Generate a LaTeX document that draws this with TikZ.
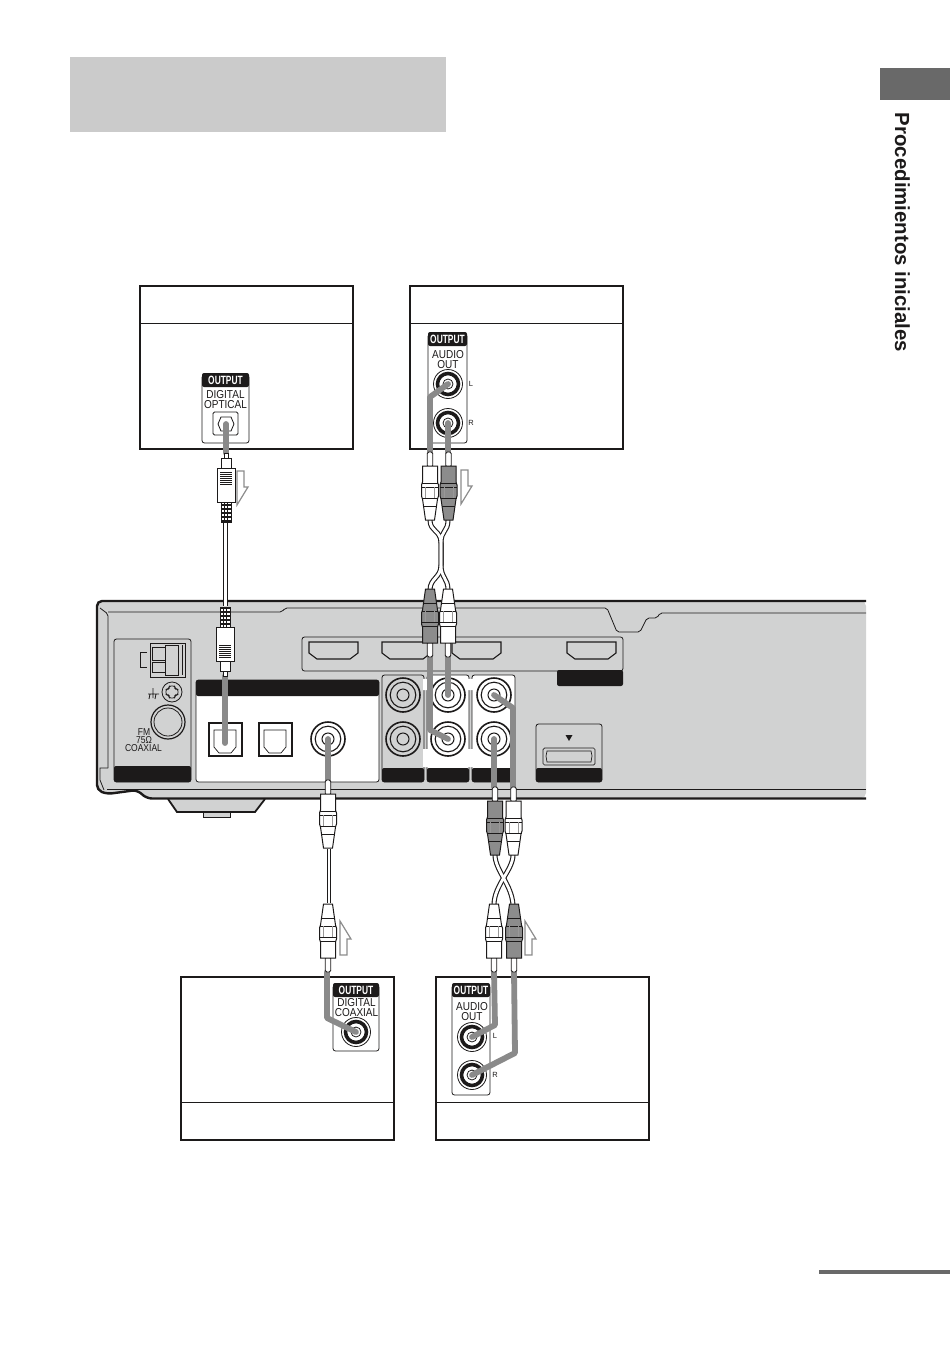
\documentclass[tikz,border=0pt]{standalone}
\usepackage{fontspec}
\setmainfont{Liberation Sans}
\definecolor{devgray}{HTML}{D1D2D2}
\definecolor{titlegray}{HTML}{CBCBCB}
\definecolor{tabgray}{HTML}{696969}
\definecolor{leadgray}{HTML}{8A8A8A}
\definecolor{darkplug}{HTML}{8C8C8C}
\definecolor{inkblack}{HTML}{1C1A1A}
\newcommand{\smalltext}{\fontsize{10}{10}\selectfont}
\newcommand{\paneltext}{\fontsize{11.5}{11.5}\selectfont}
\newcommand{\tinytext}{\fontsize{7.5}{7.5}\selectfont}
\newcommand{\outputword}{\scalebox{.7}[1]{OUTPUT}}
\newcommand{\tallword}[1]{\scalebox{.87}[1]{#1}}
\tikzset{
    frameline/.style={draw=inkblack, line width=1.6},
    thinline/.style={draw=inkblack, line width=0.8},
    panel/.style={draw=inkblack, line width=0.8, rounded corners=2.5},
    blackbar/.style={fill=inkblack, rounded corners=2},
    lead/.style={draw=leadgray, line width=5.8},
    wireout/.style={draw=inkblack, line width=5},
    wirein/.style={draw=white, line width=2.8},
    lbl/.style={inner sep=0, text=inkblack, font=\smalltext},
    panellbl/.style={inner sep=0, text=inkblack, font=\paneltext},
    tinylbl/.style={inner sep=0, text=inkblack, font=\tinytext},
    outlbl/.style={inner sep=0, text=white, font=\fontsize{12}{12}\selectfont\bfseries},
    pics/rcaplug/.style={code={
        \draw[thinline, fill=white, rounded corners=1.5] (-2.7,0) -- (-2.7,15) -- (2.7,15) -- (2.7,0) -- cycle;
        \draw[thinline, line width=1, fill=#1] (-7.5,14) -- (-7.5,30) -- (-8.5,33) -- (-8.5,44) -- (-7.5,47) -- (-6.5,54) -- (-4.5,68) -- (4.5,68) -- (6.5,54) -- (7.5,47) -- (8.5,44) -- (8.5,33) -- (7.5,30) -- (7.5,14) -- cycle;
        \draw[thinline, line width=0.7] (-8,31) -- (8,31) (-8.5,35) -- (8.5,35) (-8,46) -- (8,46) (-6.5,54) -- (6.5,54);
        \draw[inkblack!45, line width=0.5] (-4.5,35) -- (-4.5,46) (4.5,35) -- (4.5,46);
    }},
    pics/optplug/.style={code={
        \draw[thinline, fill=white] (-2,0) -- (-2,5) -- (2,5) -- (2,0) -- cycle;
        \draw[thinline, fill=white] (-5,5) -- (-5,15) -- (5,15) -- (5,5) -- cycle;
        \draw[frameline, line width=1, fill=white] (-9,15) rectangle (9,49);
        \foreach \yy in {19,21,...,31}
            \draw[thinline, line width=0.6] (-6,\yy) -- (6,\yy);
        \draw[thinline, fill=white] (-5,49) rectangle (5,69);
        \foreach \yy in {52,56,...,68}
            \draw[thinline, line width=1.2] (-5,\yy) -- (5,\yy);
        \draw[inkblack, line width=1.2] (-1.5,49) -- (-1.5,69) (1.5,49) -- (1.5,69);
    }},
    pics/hollowarrow/.style={code={
        \draw[draw=gray!90, line width=1.2, fill=white] (0,0) -- (7,0) -- (7,16) -- (11,16) -- (0,34) -- cycle;
    }},
    pics/devjack/.style={code={
        \draw[inkblack, line width=1.6] (0,0) circle (17);
        \draw[inkblack, line width=1.1] (0,0) circle (12.8);
        \draw[inkblack, line width=1] (0,0) circle (6);
    }},
    pics/boxjack/.style={code={
        \draw[thinline, fill=white] (0,0) circle (14.5);
        \draw[inkblack, line width=3.6] (0,0) circle (10.5);
        \draw[thinline] (0,0) circle (5);
    }},
    pics/hdmiport/.style={code={
        \draw[inkblack, line width=1.1] (0,0) -- (49,0) -- (49,11) -- (41,17) -- (8,17) -- (0,11) -- cycle;
    }},
    pics/optjack/.style={code={
        \draw[inkblack, line width=1.5, fill=white] (0,0) rectangle (33,33);
        \draw[inkblack, line width=0.7] (5,7) -- (27,7) -- (27,24) -- (22,30) -- (10,30) -- (5,24) -- cycle;
    }}
}
\begin{document}
\begin{tikzpicture}[x=1pt, y=-1pt]
    \useasboundingbox (0,0) rectangle (950,1351);

    % page furniture
    \fill[titlegray] (70,57) rectangle (446,132);
    \fill[tabgray] (880,68) rectangle (950,100);
    \fill[tabgray] (819,1270) rectangle (950,1274);
    \node[rotate=-90, inner sep=0, text=inkblack, font=\fontsize{20.4}{20.4}\selectfont\bfseries] (sidetitle) at (902.5,232.5) {Procedimientos iniciales};

    % main unit
    \fill[devgray, rounded corners=5] (866,601) -- (97,601) -- (97,790) -- (107,794) -- (137,790) -- (147,798) -- (866,798) -- cycle;
    \fill[devgray] (168,798) -- (177,812) -- (255,812) -- (265,798) -- cycle;
    \draw[inkblack, line width=2.4, rounded corners=5] (866,601) -- (97,601) -- (97,790) -- (107,794) -- (137,790) -- (147,798.5) -- (866,798.5);
    \draw[inkblack, line width=1.8] (168,799) -- (177,812) -- (255,812) -- (265,799);
    \draw[thinline, fill=devgray] (203,812) rectangle (230,817);
    \draw[thinline] (107,789.5) -- (866,789.5);
    \draw[thinline, rounded corners=2] (100,608) -- (108,614) -- (108,768) (108,612) -- (282,612) -- (285,608) -- (607,608) -- (617,632) -- (640,632) -- (647,618) -- (657,618) -- (660,613) -- (866,613);
    \draw[thinline] (108,768) -- (100,768) -- (100,780) -- (104,790);

    % antenna block
    \draw[panel, fill=devgray] (114,639) rectangle (191,782);
    \fill[blackbar] (114,766) rectangle (191,782);
    \draw[thinline] (150,643) rectangle (185,677);
    \draw[thinline] (152,647) rectangle (165,660) (152,662) rectangle (165,672) (165,645) rectangle (178,675) (182,645) -- (182,675);
    \draw[thinline] (147,652) -- (140,652) -- (140,667) -- (147,667);
    \draw[thinline] (172,692) circle (10);
    \draw[thinline, rounded corners=2] (169,686) -- (175,686) -- (175,689) -- (178,689) -- (178,695) -- (175,695) -- (175,698) -- (169,698) -- (169,695) -- (166,695) -- (166,689) -- (169,689) -- cycle;
    \draw[thinline] (153,688) -- (153,698) (148,694) -- (159,694) (150,694) -- (149,699) (156,694) -- (155,699);
    \draw[inkblack, line width=1.2] (168,722) circle (17);
    \draw[inkblack, line width=0.8] (168,722) circle (14);
    \node[lbl] (fmlabel) at (144,732) {\scalebox{.85}[1]{FM}};
    \node[lbl] (ohmlabel) at (144,740.5) {\scalebox{.85}[1]{75Ω}};
    \node[lbl] (coaxlabel) at (143.5,748.5) {\scalebox{.85}[1]{COAXIAL}};

    % digital input block
    \draw[panel, fill=white] (196,680) rectangle (379,782);
    \fill[blackbar] (196,680) rectangle (379,696);
    \pic at (209,723) {optjack};
    \pic at (259,723) {optjack};
    \coordinate (optin) at (225,743);
    \coordinate (coaxin) at (328,739);
    \pic at (coaxin) {devjack};

    % HDMI strip
    \draw[panel, fill=devgray] (302,637) rectangle (623,671);
    \fill[blackbar] (557,670) rectangle (623,686);
    \foreach \xx in {309,382,452,567}
        \pic at (\xx,642) {hdmiport};

    % audio blocks
    \draw[panel, fill=devgray] (382,675) rectangle (424,782);
    \fill[blackbar] (382,768) rectangle (424,782);
    \draw[panel, fill=white] (427,675) rectangle (469,782);
    \fill[blackbar] (427,768) rectangle (469,782);
    \draw[panel, fill=white] (472,675) rectangle (515,782);
    \fill[blackbar] (472,768) rectangle (515,782);
    \fill[white] (423,679) rectangle (428,690) (423,749) rectangle (428,767);
    \fill[white] (468,679) rectangle (473,690) (468,749) rectangle (473,767);
    \coordinate (ainL) at (448,695);
    \coordinate (ainR) at (448,739);
    \coordinate (aoutL) at (494,739);
    \coordinate (aoutR) at (494,695);
    \pic at (403,695) {devjack};
    \pic at (403,739) {devjack};
    \pic at (ainL) {devjack};
    \pic at (ainR) {devjack};
    \pic at (aoutL) {devjack};
    \pic at (aoutR) {devjack};

    % card slot
    \draw[panel, fill=devgray] (536,724) rectangle (602,782);
    \fill[blackbar] (536,768) rectangle (602,782);
    \fill[inkblack] (565.5,735) -- (572.5,735) -- (569,741) -- cycle;
    \draw[inkblack, line width=0.7, rounded corners=1.5] (543,748) rectangle (595,765);
    \draw[inkblack, line width=0.7] (547,751) -- (591,751) -- (592,756) -- (591,762) -- (547,762) -- (546,756) -- cycle;

    % source boxes
    \draw[frameline] (140,286) rectangle (353,449);
    \draw[thinline] (141,323) -- (352,323);
    \draw[frameline] (410,286) rectangle (623,449);
    \draw[thinline] (411,323) -- (622,323);
    \draw[frameline] (181,977) rectangle (394,1140);
    \draw[thinline] (182,1102) -- (393,1102);
    \draw[frameline] (436,977) rectangle (649,1140);
    \draw[thinline] (437,1102) -- (648,1102);

    % optical output panel
    \draw[panel, fill=white] (202,375) rectangle (249,443);
    \fill[blackbar] (202,373) rectangle (249,387);
    \node[outlbl] (optoutput) at (225.5,380) {\outputword};
    \node[panellbl] (optdigital) at (225.5,394.5) {\tallword{DIGITAL}};
    \node[panellbl] (optoptical) at (225.5,405) {\tallword{OPTICAL}};
    \draw[thinline, rounded corners=1.5] (213,412) rectangle (238,435);
    \draw[thinline] (221,417) -- (231,417) -- (234,424) -- (231,431) -- (221,431) -- (218,424) -- cycle;
    \coordinate (optout) at (226,424);

    % audio output panel, top
    \draw[panel, fill=white] (428,334) rectangle (467,443);
    \fill[blackbar] (428,332) rectangle (467,346);
    \node[outlbl] (topoutput) at (447.5,339) {\outputword};
    \node[panellbl] (topaudio) at (448,355) {\tallword{AUDIO}};
    \node[panellbl] (topout) at (448,365) {\tallword{OUT}};
    \coordinate (topL) at (448,384);
    \coordinate (topR) at (448,423);
    \pic at (topL) {boxjack};
    \pic at (topR) {boxjack};
    \node[tinylbl] (toplabelL) at (471,384) {L};
    \node[tinylbl] (toplabelR) at (471,423) {R};

    % coaxial output panel
    \draw[panel, fill=white] (333,985) rectangle (379,1051);
    \fill[blackbar] (333,983) rectangle (379,997);
    \node[outlbl] (coaxoutput) at (356,990) {\outputword};
    \node[panellbl] (coaxdigital) at (356.5,1003) {\tallword{DIGITAL}};
    \node[panellbl] (coaxcoaxial) at (356.5,1013) {\tallword{COAXIAL}};
    \coordinate (coaxout) at (356,1032);
    \pic at (coaxout) {boxjack};

    % audio output panel, bottom
    \draw[panel, fill=white] (452,985) rectangle (490,1095);
    \fill[blackbar] (452,983) rectangle (490,997);
    \node[outlbl] (botoutput) at (471,990) {\outputword};
    \node[panellbl] (botaudio) at (472,1007) {\tallword{AUDIO}};
    \node[panellbl] (botout) at (472,1017) {\tallword{OUT}};
    \coordinate (botL) at (472,1037);
    \coordinate (botR) at (472,1075);
    \pic at (botL) {boxjack};
    \pic at (botR) {boxjack};
    \node[tinylbl] (botlabelL) at (495,1036) {L};
    \node[tinylbl] (botlabelR) at (495,1075) {R};

    % gray leads into the jacks
    \draw[lead, line cap=round] (optout) -- (226,453);
    \draw[lead, line cap=round, line join=round] (topL) -- (430,397) -- (430,452);
    \draw[lead, line cap=round] (topR) -- (448,452);
    \draw[lead, line cap=round] (optin) -- (225,676);
    \draw[lead, line cap=round] (ainL) -- (448,655);
    \draw[lead, line cap=round, line join=round] (ainR) -- (430,730) -- (430,655);
    \draw[lead, line cap=round] (coaxin) -- (328,780);
    \draw[lead, line cap=round] (aoutL) -- (494,787);
    \draw[lead, line cap=round, line join=round] (aoutR) -- (513,708) -- (513,788);
    \draw[lead, line cap=round, line join=round] (coaxout) -- (327,1018) -- (327,972);
    \draw[lead, line cap=round, line join=round] (botL) -- (495,1025) -- (494,972);
    \draw[lead, line cap=round, line join=round] (botR) -- (515,1053) -- (514,972);

    % cables
    \draw[wireout] (225.5,520) -- (225.5,606);
    \draw[wirein] (225.5,520) -- (225.5,606);
    \draw[wireout, line width=4] (328.5,849) -- (328.5,903);
    \draw[wirein, line width=2] (328.5,849) -- (328.5,903);
    \foreach \style in {wireout,wirein} {
        \draw[\style] (430,520) .. controls (430,532) and (441,530) .. (441,543) -- (441,565)
            .. controls (441,578) and (430,578) .. (430,590);
        \draw[\style] (448,520) .. controls (448,532) and (441,530) .. (441,543) -- (441,565)
            .. controls (441,578) and (448,578) .. (448,590);
        \draw[\style] (495,855) .. controls (495,870) and (512,885) .. (513,905);
        \draw[\style] (513,855) .. controls (513,870) and (494,885) .. (494,905);
    }

    % plugs
    \pic at (226,453) {optplug};
    \pic[yscale=-1] at (225,676) {optplug};
    \pic at (430,452) {rcaplug=white};
    \pic at (448.5,452) {rcaplug=darkplug};
    \pic[yscale=-1] at (430,657) {rcaplug=darkplug};
    \pic[yscale=-1] at (448,657) {rcaplug=white};
    \pic at (328,780) {rcaplug=white};
    \pic[yscale=-1] at (328,972) {rcaplug=white};
    \pic at (495,787) {rcaplug=darkplug};
    \pic at (513.5,787) {rcaplug=white};
    \pic[yscale=-1] at (494,972) {rcaplug=white};
    \pic[yscale=-1] at (514,972) {rcaplug=darkplug};

    % hollow arrows
    \pic at (237,471) {hollowarrow};
    \pic at (461,470) {hollowarrow};
    \pic[yscale=-1] at (340,955) {hollowarrow};
    \pic[yscale=-1] at (525,955) {hollowarrow};
\end{tikzpicture}
\end{document}
